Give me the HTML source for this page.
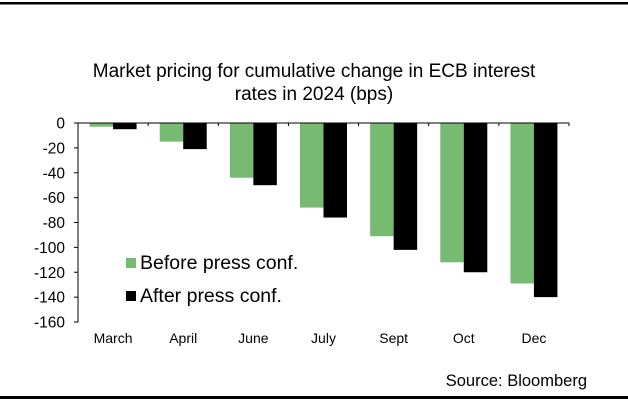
<!DOCTYPE html>
<html><head><meta charset="utf-8"><style>
body{margin:0;background:#fff;font-family:"Liberation Sans",Arial,sans-serif}
svg text{font-family:"Liberation Sans",Arial,sans-serif}
</style></head><body>
<svg id="c" width="628" height="406" viewBox="0 0 628 406">
<rect x="0" y="2" width="628" height="2.5" fill="#000"/>
<rect x="0" y="396" width="628" height="3" fill="#000"/>
<text x="314" y="77" font-size="19" text-anchor="middle">Market pricing for cumulative change in ECB interest</text>
<text x="314" y="100" font-size="19" text-anchor="middle">rates in 2024 (bps)</text>
<g id="bars"></g>
<g id="axes"></g>
<rect x="126" y="258" width="10" height="10" fill="#77bb72"/>
<text x="140" y="269" font-size="19.5">Before press conf.</text>
<rect x="126" y="291" width="10" height="10" fill="#000"/>
<text x="140" y="302" font-size="19.5">After press conf.</text>
<text x="587" y="386" font-size="16.5" text-anchor="end">Source: Bloomberg</text>
</svg>
<script>
const categories=["March","April","June","July","Sept","Oct","Dec"];
const beforeVals=[-3,-15,-44,-68,-91,-112,-129];
const afterVals=[-5,-21,-50,-76,-102,-120,-140];
const yTicks=[0,-20,-40,-60,-80,-100,-120,-140,-160];
const NS="http://www.w3.org/2000/svg";
const x0=78,x1=569,yTop=123,yBot=322;
const cw=(x1-x0)/categories.length;
const y=v=>yTop+(0-v)/160*(yBot-yTop);
const xc=i=>x0+cw*(i+0.5);
const bw=23.5;
const bars=document.getElementById('bars'),axes=document.getElementById('axes');
function mk(t,a,p){const e=document.createElementNS(NS,t);for(const k in a)e.setAttribute(k,a[k]);p.appendChild(e);return e;}
categories.forEach((c,i)=>{
 const g=mk('rect',{x:xc(i)-bw,y:y(0),width:bw,height:y(beforeVals[i])-y(0),fill:'#77bb72'},bars);
 
 
 const b=mk('rect',{x:xc(i),y:y(0),width:bw,height:y(afterVals[i])-y(0),fill:'#000'},bars);
 
 
 const t=mk('text',{x:xc(i),y:343,'font-size':14,'text-anchor':'middle'},axes);
 t.textContent=c;
 
 
});
for(let i=0;i<=categories.length;i++){
 const tk=mk('line',{x1:x0+cw*i,x2:x0+cw*i,y1:y(0),y2:y(0)+3,stroke:'#000'},axes);
 
 
}
const xa=mk('line',{x1:x0,x2:x1,y1:y(0),y2:y(0),stroke:'#000','stroke-width':1},axes);


const ya=mk('line',{x1:x0,x2:x0,y1:y(0),y2:yBot,stroke:'#000','stroke-width':1},axes);


yTicks.forEach(v=>{
 const l=mk('line',{x1:x0-4,x2:x0,y1:y(v),y2:y(v),stroke:'#000'},axes);
 
 
 const t=mk('text',{x:65,y:y(v)+5.5,'font-size':15.5,'text-anchor':'end'},axes);
 t.textContent=v;
 
 
});
</script>
</body></html>
